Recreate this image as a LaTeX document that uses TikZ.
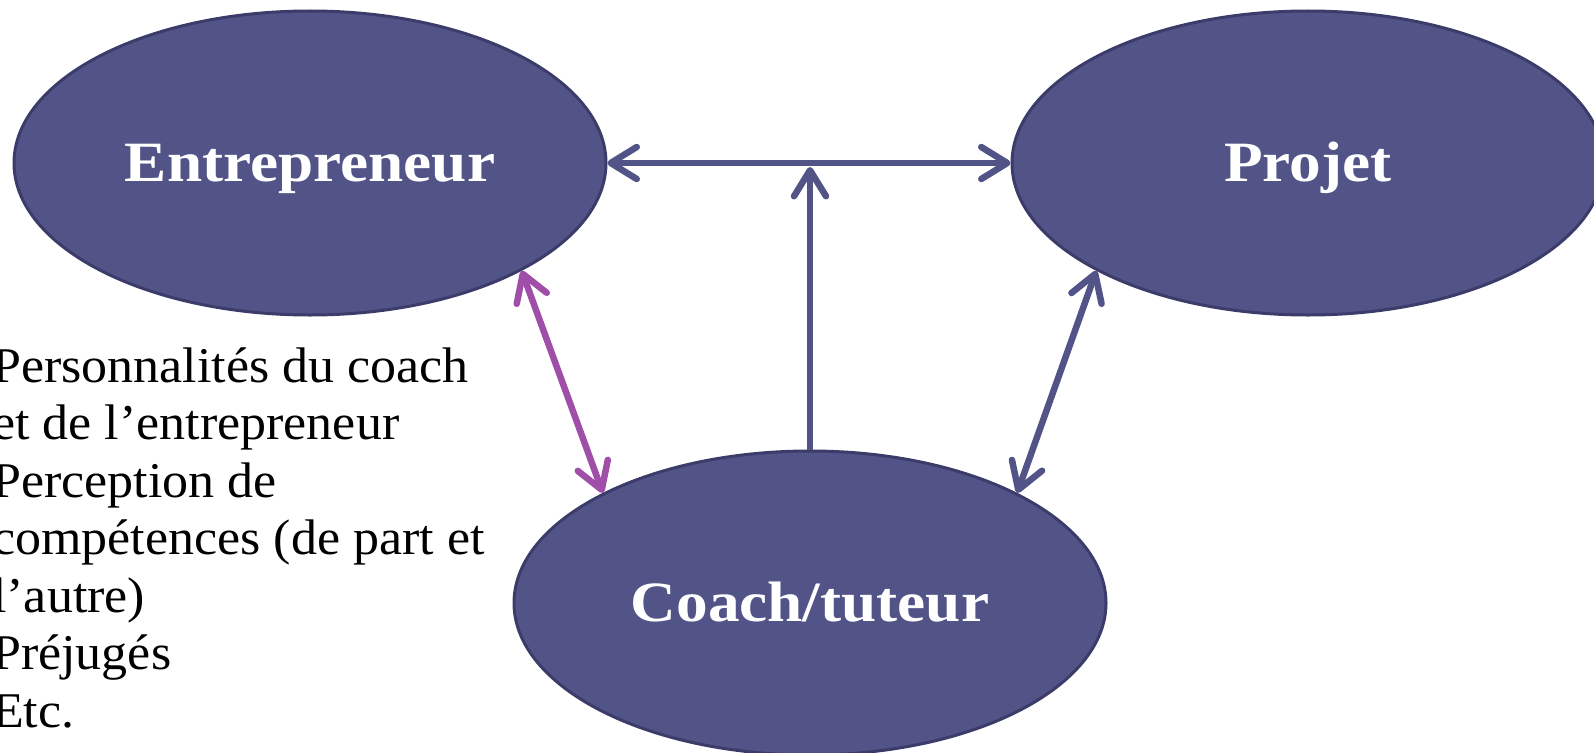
\documentclass[tikz,border=0pt]{standalone}
\usepackage{fontspec}
\setmainfont{Liberation Serif}[FakeStretch=1.04]
\newfontfamily\labelfont{Liberation Serif}[FakeStretch=1.11]
\usetikzlibrary{shapes.geometric, arrows.meta, calc}

\definecolor{nodefill}{HTML}{525488}
\definecolor{nodeedge}{HTML}{3B3C6A}
\definecolor{linkblue}{HTML}{525488}
\definecolor{linkpurple}{HTML}{A04FA8}

\tikzset{
  bubble/.style={ellipse, fill=nodefill, draw=nodeedge, line width=3pt,
    minimum width=592pt, minimum height=304pt, inner sep=0pt,
    text=white, font=\labelfont\bfseries\fontsize{57}{60}\selectfont,
    text height=37.7pt, text depth=0pt},
  link/.style={line width=6.5pt, draw=linkblue,
    >={Straight Barb[length=26pt,width=32pt,round]}},
  notes/.style={anchor=base west, align=left, inner sep=0pt,
    font=\fontsize{50}{57.5}\selectfont},
}

\begin{document}
\begin{tikzpicture}[x=1pt,y=-1pt]
  \useasboundingbox (0,0) rectangle (1594,752);

  % the three parties
  \node[bubble] (E) at (310,163) {Entrepreneur};
  \node[bubble] (P) at (1308,163) {Projet};
  \node[bubble] (C) at (810,603) {Coach/tuteur};

  % relations between them
  \draw[link, <->] (E.east) -- (P.west);
  \coordinate (J) at ($(C.north |- E.east)+(0,4)$);
  \draw[link, ->] (C.north) -- (J);
  \draw[link, draw=linkpurple, <->] (E.-27) -- (C.152);
  \draw[link, <->] (P.-153) -- (C.28);

  % factors of the coach--entrepreneur relation (anchored on the last baseline)
  \node[notes] (F) at (-8,727) {Personnalités du coach\\et de l’entrepreneur\\Perception de\\compétences (de part et\\l’autre)\\Préjugés\\Etc.};
\end{tikzpicture}
\end{document}
